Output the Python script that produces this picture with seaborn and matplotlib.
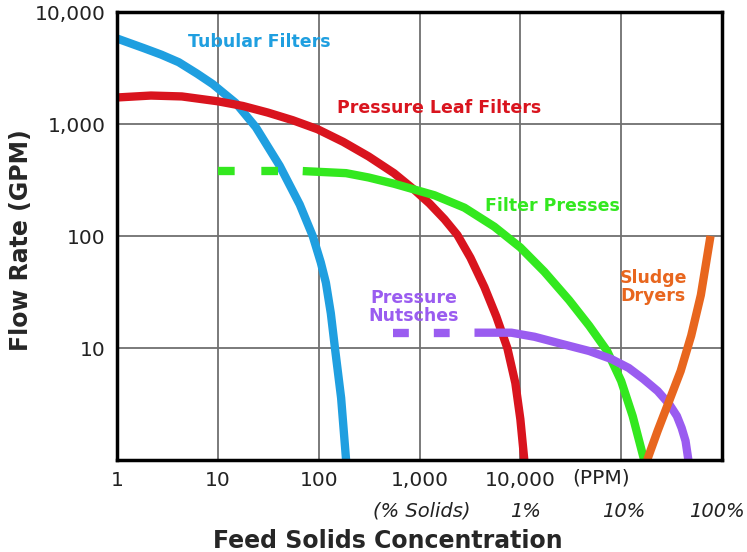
import numpy as np
import pandas as pd
import matplotlib
matplotlib.use("Agg")
import matplotlib.pyplot as plt
import seaborn as sns

# --- data (feed solids ppm vs flow rate gpm) ---
tubular_x = [1, 1.84, 2.75, 4.1, 6.25, 8.9, 15.1, 23.8, 41.1, 64.9, 87.3, 105,
             118, 132, 145, 167, 187]
tubular_y = [5800, 4760, 4160, 3560, 2810, 2270, 1535, 937, 423, 191, 100, 58,
             38.2, 20.4, 10, 3.58, 1]

leaf_x = [1, 2.17, 4.4, 10, 17.7, 31.3, 55.3, 97.8, 175, 313, 558, 890, 1256,
          1770, 2377, 3200, 4400, 5780, 7430, 8920, 10000, 10950]
leaf_y = [1725, 1795, 1762, 1595, 1449, 1265, 1081, 897, 693, 513, 364, 258,
          195, 141, 102, 64, 35, 19.1, 10, 4.87, 2.32, 1]

presses_dash_x = [10, 69.5]
presses_dash_y = [380, 380]
presses_x = [69.5, 187, 313, 558, 1408, 2790, 5530, 10000, 17300, 30500, 48200,
             72600, 100000, 130000, 169000]
presses_y = [380, 364, 333, 293, 231, 179, 121, 79, 48, 26.7, 15.8, 9.4, 5.07,
             2.47, 1]

nutsche_dash_x = [550, 3510]
nutsche_dash_y = [13.7, 13.7]
nutsche_x = [3510, 8150, 13800, 25500, 48200, 79600, 119000, 166000, 230000,
             299000, 357000, 398000, 435000, 464000]
nutsche_y = [13.7, 13.7, 12.6, 10.9, 9.4, 7.98, 6.63, 5.29, 4.13, 3.16, 2.47,
             1.93, 1.48, 1]

dryer_x = [181000, 230000, 299000, 389000, 495000, 617000, 769000]
dryer_y = [1, 1.82, 3.36, 6.23, 12.9, 29.7, 100]

# curve labels: text, x, y
curve_labels = ["Tubular Filters", "Pressure Leaf Filters", "Filter Presses",
                "Pressure\nNutsches", "Sludge\nDryers"]
label_x = [25.5, 1550, 21000, 870, 208000]
label_y = [5400, 1390, 186, 23, 35]

y_ticks = [10, 100, 1000, 10000]
y_tick_labels = ["10", "100", "1,000", "10,000"]
x_ticks = [1, 10, 100, 1000, 10000]
x_tick_labels = ["1", "10", "100", "1,000", "10,000"]
ppm_x = 63000
pct_x = [1050, 11200, 107000, 890000]
pct_labels = ["(% Solids)", "1%", "10%", "100%"]

blue = "#1f9fe0"
red = "#d9141e"
green = "#33e81f"
purple = "#9a5cf0"
orange = "#e8661e"
colors = [blue, red, green, purple, orange]

sns.set_style("white")
plt.rcParams["font.family"] = ["DejaVu Sans"]

fig = plt.figure(figsize=(7.47, 5.52), dpi=100)
ax = fig.add_axes([117 / 747, 92 / 552, 605 / 747, 448 / 552])
ax.set_xscale("log")
ax.set_yscale("log")

lw = 6
solid = [(tubular_x, tubular_y, blue), (leaf_x, leaf_y, red),
         (presses_x, presses_y, green), (nutsche_x, nutsche_y, purple),
         (dryer_x, dryer_y, orange)]
for xs, ys, c in solid:
    df = pd.DataFrame({"x": xs, "y": ys})
    sns.lineplot(data=df, x="x", y="y", color=c, lw=lw, sort=False,
                 estimator=None, ax=ax, solid_capstyle="butt",
                 solid_joinstyle="round", zorder=3)

# dashed lead-ins for filter presses and nutsches
sns.lineplot(x=presses_dash_x, y=presses_dash_y, color=green, lw=lw,
             linestyle=(0, (2.0, 3.2)), estimator=None, ax=ax, zorder=3)
sns.lineplot(x=nutsche_dash_x, y=nutsche_dash_y, color=purple, lw=lw,
             linestyle=(0, (1.9, 3.0)), estimator=None, ax=ax, zorder=3)

for txt, lx, ly, c in zip(curve_labels, label_x, label_y, colors):
    ax.text(lx, ly, txt, color=c, fontsize=12.5, fontweight="bold",
            ha="center", va="center", linespacing=1.0, zorder=4)

ax.set_xlim(1, 1e6)
ax.set_ylim(1, 10000)
ax.xaxis.set_minor_locator(matplotlib.ticker.NullLocator())
ax.yaxis.set_minor_locator(matplotlib.ticker.NullLocator())
ax.set_yticks(y_ticks)
ax.set_yticklabels(y_tick_labels, fontsize=14.5, color="#222222")
ax.set_xticks(x_ticks + [1e5, 1e6])
ax.set_xticklabels(x_tick_labels + ["", ""], fontsize=14.5, color="#222222")
ax.tick_params(length=0, pad=8)
ax.grid(True, which="major", color="#707070", lw=1.3, zorder=1)

xt = ax.get_xaxis_transform()
ax.text(ppm_x, -0.040, "(PPM)", transform=xt, fontsize=14.5, color="#222222",
        ha="center", va="center")
for px, lab in zip(pct_x, pct_labels):
    ax.text(px, -0.114, lab, transform=xt, fontsize=14, style="italic",
            color="#222222", ha="center", va="center")

for sp in ax.spines.values():
    sp.set_color("black")
    sp.set_linewidth(2.5)
    sp.set_zorder(5)

ax.set_xlabel("Feed Solids Concentration", fontsize=17, fontweight="bold")
ax.set_ylabel("Flow Rate (GPM)", fontsize=17, fontweight="bold")
ax.xaxis.set_label_coords(0.448, -0.155)
ax.yaxis.set_label_coords(-0.139, 0.49)

fig.savefig("out.png", dpi=100)
